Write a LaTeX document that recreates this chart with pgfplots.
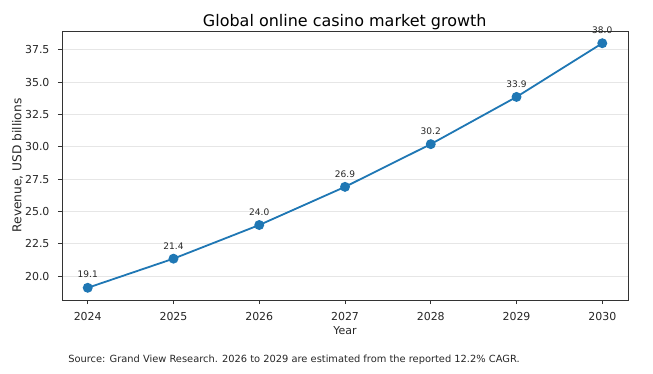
\documentclass[border=0pt]{standalone}
\usepackage{pgfplots}
\pgfplotsset{compat=1.18}
\usepackage{fontspec}
\setmainfont{DejaVu Sans}
\definecolor{mplblue}{HTML}{1F77B4}
\definecolor{gridgray}{HTML}{E6E6E6}
\definecolor{spine}{HTML}{333333}
\begin{document}
\begin{tikzpicture}
\path (0pt,0pt) rectangle (470.16pt,268.56pt);
\begin{axis}[
  at={(44.64pt,52.56pt)}, anchor=south west,
  scale only axis, width=407.52pt, height=193.68pt,
  xmin=2023.7, xmax=2030.3, ymin=18.155, ymax=38.945,
  xtick={2024,2025,2026,2027,2028,2029,2030},
  ytick={20,22.5,25,27.5,30,32.5,35,37.5},
  xticklabel style={yshift=-2pt, /pgf/number format/1000 sep={}},
  yticklabel style={xshift=-2.5pt, /pgf/number format/.cd,fixed,fixed zerofill,precision=1},
  /pgf/number format/assume math mode=true,
  tick label style={font=\fontsize{7.9}{9.5}\selectfont, text=black!85},
  tick align=outside, major tick length=3pt,
  tick style={spine, line width=0.7pt},
  xtick pos=bottom, ytick pos=left,
  axis line style={spine, line width=0.7pt},
  ymajorgrids, grid style={gridgray, line width=0.7pt},
  clip=false,
  nodes near coords,
  point meta=explicit symbolic,
  every node near coord/.append style={font=\fontsize{6.5}{7.8}\selectfont, text=black!85, anchor=south, inner sep=0pt, yshift=6.3pt},
]
\addplot[color=mplblue, line width=1.3pt, mark=*, mark size=2.9pt, mark options={fill=mplblue, draw=mplblue}] table[meta=label] {
x y label
2024 19.1 19.1
2025 21.35 21.4
2026 23.95 24.0
2027 26.9 26.9
2028 30.2 30.2
2029 33.85 33.9
2030 38.0 38.0
};
\end{axis}
\node[font=\fontsize{11.5}{13.8}\selectfont, anchor=base, inner sep=0pt] at (248.2pt,249.5pt) {Global online casino market growth};
\node[font=\fontsize{7.9}{9.5}\selectfont, text=black!85, anchor=base, inner sep=0pt] at (248.4pt,27.4pt) {Year};
\node[font=\fontsize{8.8}{10.5}\selectfont, text=black!85, rotate=90, anchor=center, inner sep=0pt] at (12.6pt,149.4pt) {Revenue, USD billions};
\node[font=\fontsize{7.1}{8.5}\selectfont, text=black!85, anchor=base west, inner sep=0pt] at (48.96pt,7.9pt) {Source: Grand View Research. 2026 to 2029 are estimated from the reported 12.2\% CAGR.};
\end{tikzpicture}
\end{document}
